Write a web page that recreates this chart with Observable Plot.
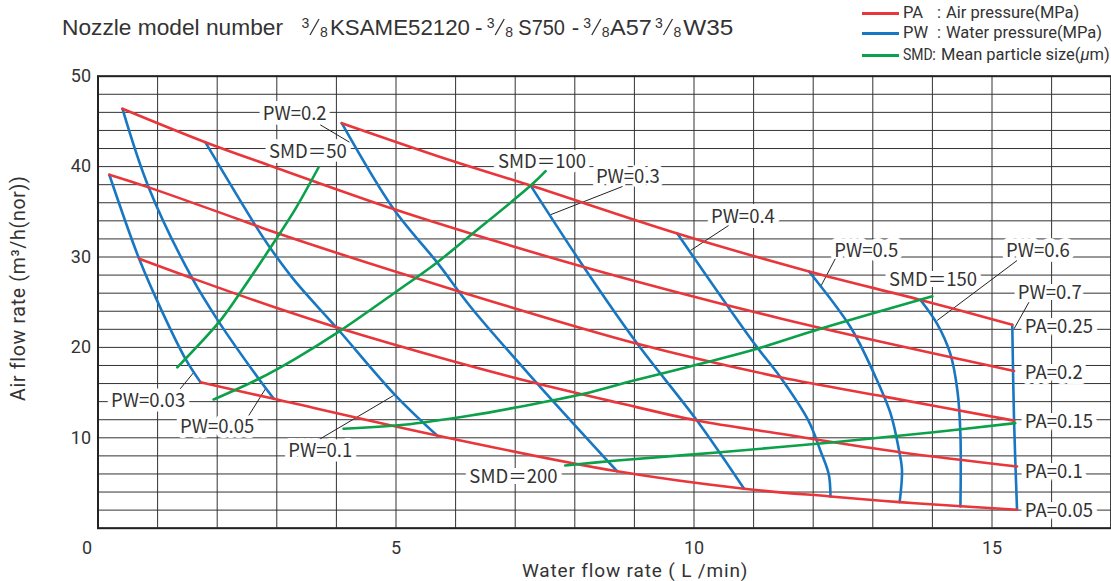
<!DOCTYPE html>
<html><head><meta charset="utf-8">
<script src="https://cdn.jsdelivr.net/npm/d3@7"></script>
<script src="https://cdn.jsdelivr.net/npm/@observablehq/plot@0.6"></script>
<style>
body{margin:0;background:#fff;}
#wrap{position:relative;width:1111px;height:581px;overflow:hidden;color:#333;font-family:"Noto Sans CJK JP","Noto Sans",sans-serif;}
#chart{position:absolute;left:0;top:0;}
#title{position:absolute;left:0;top:0;width:760px;height:45px;}
.lg{position:absolute;font-family:Roboto,"Liberation Sans",sans-serif;font-size:16.5px;white-space:nowrap;line-height:18px;color:#333;}
.sw{position:absolute;width:37px;height:3px;}
</style></head>
<body>
<div id="wrap">
<div id="chart"></div>
<svg id="title" width="760" height="45"></svg>
<div id="legend"></div>
</div>
<script>
// ---------- data ----------
const xGrid = [0,1,2,3,4,5,6,7,8,9,10,11,12,13,14,15,16,17];
const yGrid = [0,2,4,6,8,10,12,14,16,18,20,22,24,26,28,30,32,34,36,38,40,42,44,46,48,50];
const xTicks = [5,10,15];
const yTicks = [10,20,30,40,50];
const xTitle = "Water flow rate ( L /min)";
const yTitle = "Air flow rate (m³/h(nor))";

// title pieces; a 3/8 fraction sits before each model code
const titleParts = ["Nozzle model number", "KSAME52120", "-", "S750", "-", "A57", "W35"];
const titleLeft  = [62, 330, 475, 518.3, 571.7, 610, 683.3];
const titleWidth = [221, 140, 0, 46.7, 0, 41.7, 50];
const fracLeft   = [301.5, 486.7, 583.3, 655];

// PA: air pressure curves (MPa)
const pa025 = [[4.09,44.8],[5.91,40.7],[7.26,37.9],[9.72,32.6],[11.93,28.4],[13.8,25.25],[15.34,22.5]];
const pa020 = [[0.41,46.4],[1.80,42.7],[2.89,40.1],[4.96,35.3],[6.25,32.6],[8.15,28.9],[11.45,23.2],[15.37,17.4]];
const pa015 = [[0.19,39.1],[0.85,37.7],[2.64,33.5],[2.89,32.9],[5.91,26.5],[9.05,20.4],[11.45,16.7],[13.24,14.5],[15.37,11.9]];
const pa010 = [[0.69,29.8],[1.58,27.65],[2.89,24.6],[4.01,22.2],[5.91,18.55],[7.37,16.0],[8.71,13.9],[10.05,11.91],[11.45,10.44],[13.46,8.41],[15.42,6.83]];
const pa005 = [[1.72,16.15],[2.95,14.31],[5.69,10.25],[8.71,6.29],[10.84,4.36],[12.29,3.51],[13.45,2.88],[14.55,2.40],[15.42,2.04]];

// PW: water pressure curves (MPa)
const pw003 = [[0.19,39.1],[0.69,29.8],[1.08,23.9],[1.47,18.7],[1.72,16.15]];
const pw005 = [[0.41,46.4],[0.85,37.7],[1.58,27.65],[2.03,22.8],[2.70,16.5],[2.95,14.31]];
const pw01  = [[1.80,42.7],[2.64,33.5],[2.89,31.0],[3.31,27.3],[4.0,22.2],[4.99,14.7],[5.69,10.25]];
const pw02  = [[4.09,44.8],[4.96,35.3],[5.69,29.4],[6.25,24.5],[7.37,16.0],[8.71,6.3]];
const pw03  = [[7.26,37.9],[8.15,28.9],[9.05,20.4],[10.05,11.91],[10.84,4.36]];
const pw04  = [[9.72,32.6],[10.56,24.6],[11.06,20.0],[11.45,16.7],[11.92,11.9],[12.12,8.6],[12.26,6.0],[12.29,3.51]];
const pw05  = [[11.93,28.4],[12.63,22.2],[13.02,17.1],[13.30,12.65],[13.44,8.6],[13.49,6.4],[13.45,2.88]];
const pw06  = [[13.8,25.25],[14.08,22.6],[14.30,19.3],[14.42,15.2],[14.47,10.4],[14.47,2.40]];
const pw07  = [[15.34,22.5],[15.37,11.9],[15.42,2.04]];

// SMD: mean particle size curves (µm)
const smd50  = [[1.33,17.8],[2.03,22.8],[2.36,25.8],[2.92,31.3],[3.31,35.3],[3.70,39.9]];
const smd100 = [[1.94,14.24],[2.70,16.53],[3.31,18.74],[4.01,21.6],[4.99,26.1],[5.69,29.4],[6.25,32.4],[7.26,37.9],[7.51,39.5]];
const smd150 = [[4.12,11.0],[5.13,11.44],[6.25,12.47],[7.03,13.38],[8.15,14.87],[8.99,16.34],[10.11,18.19],[11.06,19.85],[12.12,22.06],[14.0,25.66]];
const smd200 = [[7.84,6.94],[8.71,7.49],[10.44,8.41],[12.35,9.51],[14.02,10.62],[15.39,11.62]];

// labels
const centerLabels = [
  {text:"PW=0.2", x:3.30, y:45.8},
  {text:"SMD＝50", x:3.52, y:41.6},
  {text:"SMD＝100", x:7.45, y:40.55},
  {text:"PW=0.3", x:8.89, y:38.8},
  {text:"PW=0.4", x:10.82, y:34.4},
  {text:"PW=0.5", x:12.89, y:30.6},
  {text:"SMD＝150", x:14.01, y:27.4},
  {text:"PW=0.6", x:15.77, y:30.6},
  {text:"PW=0.7", x:15.97, y:26.0},
  {text:"PW=0.03", x:0.84, y:14.1},
  {text:"PW=0.05", x:2.0, y:11.15},
  {text:"PW=0.1", x:3.73, y:8.5},
  {text:"SMD＝200", x:6.97, y:5.65}
];
const paLabels = [
  {text:"PA=0.25", x:15.55, y:22.2},
  {text:"PA=0.2", x:15.55, y:17.15},
  {text:"PA=0.15", x:15.55, y:11.75},
  {text:"PA=0.1", x:15.55, y:6.2},
  {text:"PA=0.05", x:15.55, y:1.9}
];
const leaders = [
  {x1:3.73,y1:44.62,x2:4.22,y2:42.7},
  {x1:8.80,y1:37.8,x2:7.59,y2:34.67},
  {x1:10.58,y1:33.48,x2:9.94,y2:30.72},
  {x1:12.37,y1:29.8,x2:12.12,y2:26.66},
  {x1:15.42,y1:29.61,x2:14.08,y2:22.98},
  {x1:15.62,y1:25.0,x2:15.37,y2:22.06},
  {x1:1.38,y1:15.42,x2:1.61,y2:17.26},
  {x1:2.53,y1:12.47,x2:2.81,y2:15.42},
  {x1:3.73,y1:9.89,x2:4.96,y2:14.68}
];

const RED = "#e8363b", BLUE = "#1877c2", GREEN = "#0ba04a";

// ---------- build table ----------
const rows = [];
function add(group, name, pts){ for (const [x,y] of pts) rows.push({group, name, x, y}); }
add("PA","0.25",pa025); add("PA","0.2",pa020); add("PA","0.15",pa015); add("PA","0.1",pa010); add("PA","0.05",pa005);
add("PW","0.03",pw003); add("PW","0.05",pw005); add("PW","0.1",pw01); add("PW","0.2",pw02); add("PW","0.3",pw03);
add("PW","0.4",pw04); add("PW","0.5",pw05); add("PW","0.6",pw06); add("PW","0.7",pw07);
add("SMD","50",smd50); add("SMD","100",smd100); add("SMD","150",smd150); add("SMD","200",smd200);

const font = '"Noto Sans CJK JP","Noto Sans",sans-serif';
const axFont = 'Roboto,"Liberation Sans",sans-serif';
const lineOpts = g => ({x:"x", y:"y", z:"name", stroke: g==="PA"?RED:g==="PW"?BLUE:GREEN, strokeWidth:2.6, curve:"catmull-rom"});
const LFS = 18.5;

const chart = Plot.plot({
  width:1111, height:581,
  marginLeft:97.5, marginRight:0.3, marginTop:75.7, marginBottom:53.3,
  style:{fontFamily:font, fontSize:"16px", color:"#333", background:"white", overflow:"visible"},
  x:{domain:[0,17], axis:null},
  y:{domain:[0,50], axis:null},
  marks:[
    Plot.ruleX(xGrid, {x:d=>d, stroke:"#333", strokeWidth:1}),
    Plot.ruleY(yGrid, {y:d=>d, stroke:"#333", strokeWidth:1}),
    Plot.text(centerLabels, {x:"x", y:"y", text:"text", fontSize:LFS, fill:"white", stroke:"white", strokeWidth:10}),
    Plot.text(paLabels, {x:"x", y:"y", text:"text", fontSize:LFS, textAnchor:"start", fill:"white", stroke:"white", strokeWidth:10}),
    Plot.frame({stroke:"#222", strokeWidth:2}),
    Plot.link(leaders, {x1:"x1", y1:"y1", x2:"x2", y2:"y2", stroke:"#222", strokeWidth:1}),
    Plot.line(rows.filter(d=>d.group==="PW"), lineOpts("PW")),
    Plot.line(rows.filter(d=>d.group==="PA"), lineOpts("PA")),
    Plot.line(rows.filter(d=>d.group==="SMD"), lineOpts("SMD")),
    Plot.text(centerLabels, {x:"x", y:"y", text:"text", fontSize:LFS, fill:"#333"}),
    Plot.text(paLabels, {x:"x", y:"y", text:"text", fontSize:LFS, textAnchor:"start", fill:"#333"}),
    Plot.axisY({ticks:yTicks, tickSize:0, tickPadding:7, fontSize:18, fontFamily:axFont, label:null}),
    Plot.axisX({ticks:xTicks, tickSize:0, tickPadding:13, fontSize:18, fontFamily:axFont, label:null}),
    Plot.text(["0"], {frameAnchor:"bottom-left", textAnchor:"middle", lineAnchor:"middle", dx:-11, dy:20, fontSize:18, fontFamily:axFont, fill:"#333"}),
    Plot.text([xTitle], {frameAnchor:"bottom", textAnchor:"middle", lineAnchor:"middle", dx:30.5, dy:42.3, fontSize:19, fontFamily:axFont, fill:"#333", className:"xtitle"}),
    Plot.text([yTitle], {frameAnchor:"left", textAnchor:"middle", lineAnchor:"middle", dx:-79.5, dy:-14, rotate:-90, fontSize:19.5, fontFamily:axFont, fill:"#333", className:"ytitle"})
  ]
});
d3.select(chart).selectAll(".xtitle text").style("letter-spacing", "0.85px");
d3.select(chart).selectAll(".ytitle text").style("letter-spacing", "0.7px");
document.getElementById("chart").appendChild(chart);

// ---------- title (svg text fitted to measured widths) ----------
const tSvg = d3.select("#title");
const tFont = '"Liberation Sans",Arial,sans-serif';
titleParts.forEach((s,i)=>{
  const t = tSvg.append("text").attr("x", titleLeft[i]).attr("y", 34.5)
    .attr("font-family", tFont).attr("font-size", 22.5).attr("fill", "#333").text(s);
  if (titleWidth[i] > 0) t.attr("textLength", titleWidth[i]).attr("lengthAdjust", "spacingAndGlyphs");
});
fracLeft.forEach(l=>{
  tSvg.append("text").attr("x", l).attr("y", 28.3).attr("font-family", tFont).attr("font-size", 14).attr("fill", "#333").text("3");
  tSvg.append("line").attr("x1", l+8.5).attr("y1", 35).attr("x2", l+17.5).attr("y2", 19).attr("stroke", "#333").attr("stroke-width", 1.3);
  tSvg.append("text").attr("x", l+18.5).attr("y", 37.3).attr("font-family", tFont).attr("font-size", 14).attr("fill", "#333").text("8");
});

// ---------- legend ----------
const legendItems = [
  {key:"PA", desc:"Air pressure(MPa)", color:RED, y:13, colon:937, dx:946},
  {key:"PW", desc:"Water pressure(MPa)", color:BLUE, y:33, colon:937, dx:946},
  {key:"SMD", desc:"Mean particle size(<i>μ</i>m)", color:GREEN, y:55, colon:932, dx:941}
];
const lg = document.getElementById("legend");
for (const it of legendItems) {
  lg.insertAdjacentHTML("beforeend",
    `<div class="sw" style="left:862px;top:${it.y-1.5}px;background:${it.color}"></div>` +
    `<div class="lg" style="left:903px;top:${it.y-9}px;transform:scaleX(${it.key==="SMD"?0.85:1});transform-origin:left">${it.key}</div>` +
    `<div class="lg" style="left:${it.colon}px;top:${it.y-9}px">:</div>` +
    `<div class="lg" style="left:${it.dx}px;top:${it.y-9}px">${it.desc}</div>`);
}
</script>
</body></html>
